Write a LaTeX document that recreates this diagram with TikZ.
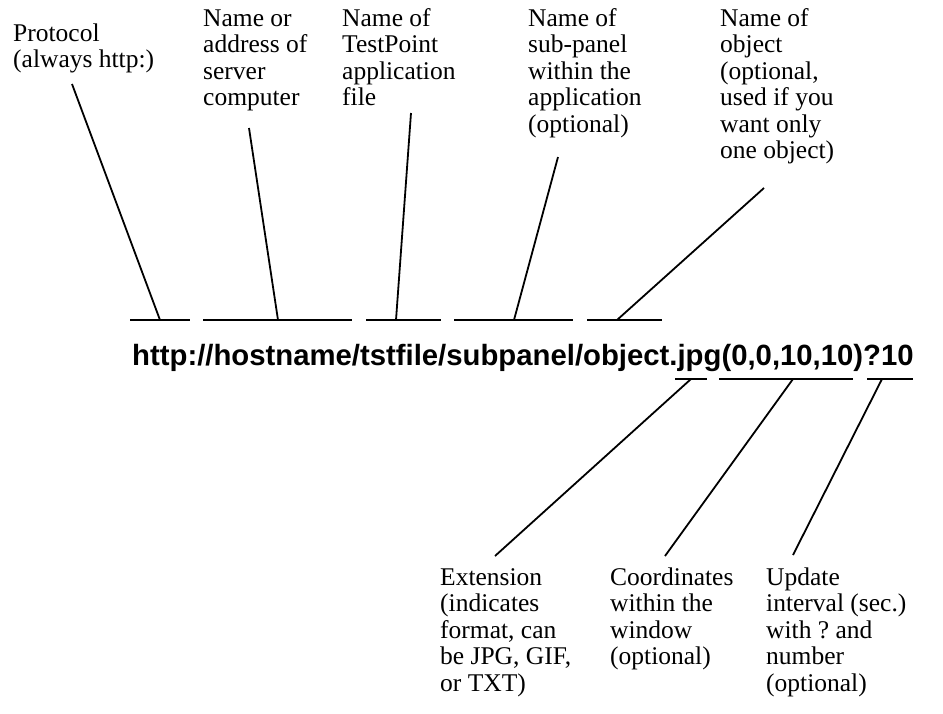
\documentclass[tikz,border=0pt]{standalone}
\usepackage{fontspec}
\setmainfont{Liberation Serif}
\newfontfamily\urlfont{Liberation Sans}
\usepackage{xcolor}
\definecolor{cInk}{HTML}{000000}
\frenchspacing
\tikzset{
  % base of a multi-line note = baseline of its last line
  node-note/.style={anchor=base west,inner sep=0pt,align=left,
    font=\fontsize{25.5}{26.5}\selectfont},
  node-url/.style={anchor=base west,inner sep=0pt,
    font=\urlfont\bfseries\fontsize{29.3}{32}\selectfont},
  bar/.style={draw=cInk,line width=2pt},
  leader/.style={draw=cInk,line width=1.8pt},
}

\begin{document}
\begin{tikzpicture}[x=1pt,y=-1pt]
  \useasboundingbox (0,0) rectangle (943,713);
  % labels above the url
  \node[node-note] (proto) at (13,67.5) {Protocol\\(always http:)};
  \node[node-note] (host) at (203,105.5) {Name or\\address of\\server\\computer};
  \node[node-note] (tst) at (342,105.5) {Name of\\TestPoint\\application\\file};
  \node[node-note] (sub) at (528,132) {Name of\\sub-panel\\within the\\application\\(optional)};
  \node[node-note] (obj) at (720,158.5) {Name of\\object\\(optional,\\used if you\\want only\\one object)};
  \node[node-url] (url) at (132,365) {http://hostname/tstfile/subpanel/object.jpg(0,0,10,10)?10};
  % labels below the url
  \node[node-note] (ext) at (440,691) {Extension\\(indicates\\format, can\\be JPG, GIF,\\or TXT)};
  \node[node-note] (crd) at (610,664.5) {Coordinates\\within the\\window\\(optional)};
  \node[node-note] (upd) at (766,691) {Update\\interval (sec.)\\with ? and\\number\\(optional)};

  % underline bars: name/left/right/joint/y
  \foreach \nm/\xa/\xb/\xj/\yy in {b-proto/130/190/160/320,b-host/203/352/278/320,
      b-tst/366/441/396/320,b-sub/454/573/514/320,b-obj/587/662/617/320,
      b-ext/675/707/691/379,b-crd/719/853/793/379,b-upd/867/913/882/379}{
    \coordinate (\nm-w) at (\xa,\yy);
    \coordinate (\nm-e) at (\xb,\yy);
    \coordinate (\nm) at (\xj,\yy);
    \draw[bar] (\nm-w) -- (\nm-e);
  }

  % free ends of the leaders
  \coordinate (proto-end) at (72,84);
  \coordinate (host-end) at (249,128);
  \coordinate (tst-end) at (411,113);
  \coordinate (sub-end) at (558,157);
  \coordinate (obj-end) at (764,188);
  \coordinate (ext-end) at (495,556);
  \coordinate (crd-end) at (665,556);
  \coordinate (upd-end) at (793,555);

  \draw[leader] (proto-end) -- (b-proto);
  \draw[leader] (host-end) -- (b-host);
  \draw[leader] (tst-end) -- (b-tst);
  \draw[leader] (sub-end) -- (b-sub);
  \draw[leader] (obj-end) -- (b-obj);
  \draw[leader] (b-ext) -- (ext-end);
  \draw[leader] (b-crd) -- (crd-end);
  \draw[leader] (b-upd) -- (upd-end);
\end{tikzpicture}
\end{document}
